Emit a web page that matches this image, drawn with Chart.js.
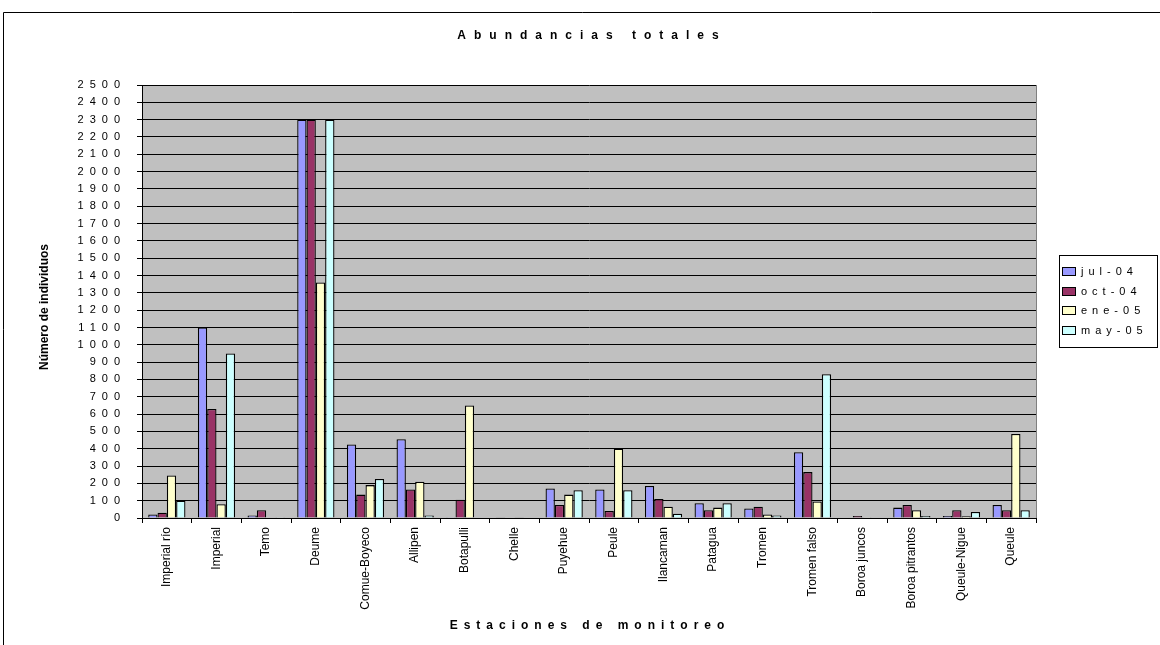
<!DOCTYPE html>
<html>
<head>
<meta charset="utf-8">
<title>Abundancias totales</title>
<script src="https://cdn.jsdelivr.net/npm/chart.js@4/dist/chart.umd.min.js"></script>
<style>
  html, body { margin: 0; padding: 0; background: #fff; }
  #wrap { width: 1160px; height: 645px; }
</style>
</head>
<body>
<div id="wrap"><canvas id="bar-chart" width="1160" height="645"></canvas></div>
<script>
const estaciones = ['Imperial río', 'Imperial', 'Temo', 'Deume', 'Comue-Boyeco', 'Allipen', 'Botapulli', 'Chelle',
  'Puyehue', 'Peule', 'Ilancaman', 'Patagua', 'Tromen', 'Tromen falso', 'Boroa juncos', 'Boroa pitrantos',
  'Queule-Nigue', 'Queule'];
const periodos = ['jul-04', 'oct-04', 'ene-05', 'may-05'];
const jul04 = [20, 1100, 15, 2300, 425, 455, 5, 4, 170, 165, 185, 85, 55, 380, 0, 60, 12, 75];
const oct04 = [30, 630, 45, 2300, 135, 165, 105, 0, 75, 40, 110, 45, 65, 265, 12, 75, 45, 45];
const ene05 = [245, 80, 0, 1360, 190, 210, 650, 4, 135, 400, 65, 60, 20, 95, 5, 45, 10, 485];
const may05 = [100, 950, 5, 2300, 225, 15, 0, 0, 160, 160, 25, 85, 15, 830, 0, 12, 35, 45];
const colores = ['#9999FF', '#993366', '#FFFFCC', '#CCFFFF'];

const FONT = '"Liberation Sans", Arial, sans-serif';

// draws text with canvas letter spacing, centred
function spacedText(ctx, txt, x, y, font, spacing) {
  ctx.save();
  ctx.font = font;
  ctx.letterSpacing = spacing + 'px';
  ctx.fillStyle = '#000';
  ctx.textAlign = 'center';
  ctx.textBaseline = 'middle';
  ctx.fillText(txt, x + spacing / 2, y);
  ctx.restore();
}

const excelLook = {
  id: 'excelLook',
  beforeDraw(chart) {
    const {ctx, chartArea: a} = chart;
    ctx.save();
    ctx.fillStyle = '#C0C0C0';
    ctx.fillRect(a.left, a.top, a.right - a.left, a.bottom - a.top);
    ctx.restore();
    // y tick labels are spread out like the excel export
    ctx.letterSpacing = '6px';
  },
  beforeDatasetsDraw(chart) {
    chart.ctx.letterSpacing = '0px';
  },
  afterDraw(chart) {
    const {ctx, chartArea: a} = chart;
    ctx.save();
    // outer frame
    ctx.strokeStyle = '#000';
    ctx.lineWidth = 1;
    ctx.beginPath();
    ctx.moveTo(3.5, 660);
    ctx.lineTo(3.5, 12.5);
    ctx.lineTo(1170, 12.5);
    ctx.stroke();
    // right edge of plot
    ctx.strokeStyle = '#808080';
    ctx.beginPath();
    ctx.moveTo(Math.round(a.right) + 0.5, a.top);
    ctx.lineTo(Math.round(a.right) + 0.5, a.bottom);
    ctx.stroke();
    ctx.restore();

    spacedText(ctx, 'Abundancias totales', 588, 36, 'bold 12px ' + FONT, 8);
    spacedText(ctx, 'Estaciones de monitoreo', 587, 626, 'bold 12px ' + FONT, 6);

    ctx.save();
    ctx.translate(45, 307);
    ctx.rotate(-Math.PI / 2);
    ctx.font = 'bold 12px ' + FONT;
    ctx.fillStyle = '#000';
    ctx.textAlign = 'center';
    ctx.textBaseline = 'middle';
    ctx.fillText('Número de individuos', 0, 0);
    ctx.restore();

    // legend
    ctx.save();
    ctx.strokeStyle = '#000';
    ctx.lineWidth = 1;
    ctx.strokeRect(1059.5, 255.5, 98, 92);
    chart.data.datasets.forEach((ds, i) => {
      const y = 271 + i * 19.7;
      ctx.fillStyle = ds.backgroundColor;
      ctx.fillRect(1063, Math.round(y - 3), 12, 7);
      ctx.strokeRect(1062.5, Math.round(y - 3) - 0.5, 13, 8);
      ctx.fillStyle = '#000';
      ctx.font = '11px ' + FONT;
      ctx.letterSpacing = '5px';
      ctx.textAlign = 'left';
      ctx.textBaseline = 'middle';
      ctx.fillText(ds.label, 1081, y + 1);
      ctx.letterSpacing = '0px';
    });
    ctx.restore();
  }
};

new Chart(document.getElementById('bar-chart'), {
  type: 'bar',
  data: {
    labels: estaciones,
    datasets: [jul04, oct04, ene05, may05].map((vals, i) => ({
      label: periodos[i],
      data: vals,
      backgroundColor: colores[i],
      borderColor: '#000',
      borderWidth: 1.3,
      categoryPercentage: 0.75,
      barPercentage: 1.0
    }))
  },
  options: {
    responsive: false,
    animation: false,
    devicePixelRatio: 1,
    layout: { padding: { top: 85, right: 124, bottom: 0, left: 0 } },
    plugins: {
      legend: { display: false },
      title: { display: false },
      tooltip: { enabled: false }
    },
    scales: {
      x: {
        ticks: {
          color: '#000',
          font: { family: FONT, size: 12 },
          minRotation: 90,
          maxRotation: 90,
          autoSkip: false,
          padding: 4,
          z: 1
        },
        grid: { display: true, drawOnChartArea: false, color: '#000', tickLength: 5, offset: true },
        border: { color: '#000' },
        afterFit: s => { s.height = 127; }
      },
      y: {
        min: 0,
        max: 2500,
        ticks: {
          stepSize: 100,
          color: '#000',
          font: { family: FONT, size: 11 },
          padding: 11,
          autoSkip: false,
          callback: v => String(v)
        },
        grid: { color: '#000', lineWidth: 1, tickLength: 5 },
        border: { color: '#000' },
        afterFit: s => { s.width = 142; }
      }
    }
  },
  plugins: [excelLook]
});
</script>
</body>
</html>
